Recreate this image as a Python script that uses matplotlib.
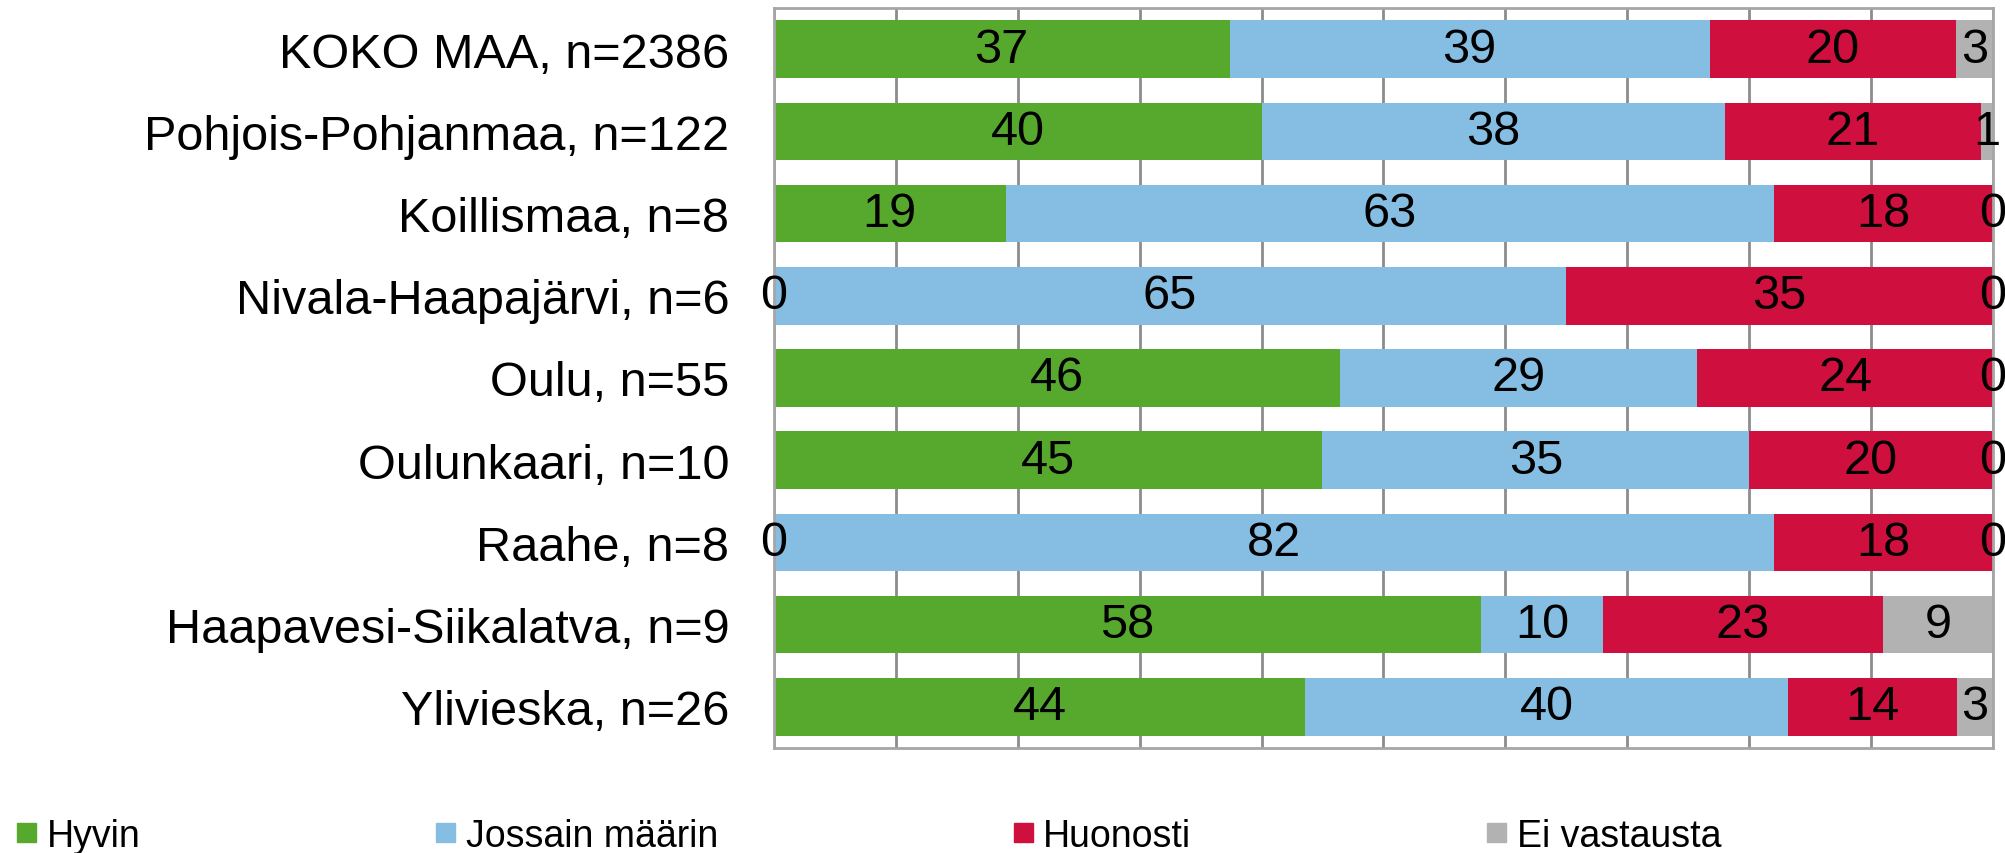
import numpy as np
import matplotlib.pyplot as plt
from matplotlib.patches import Patch

plt.rcParams['font.family'] = ['Liberation Sans', 'DejaVu Sans']

# data
regions = ["KOKO MAA, n=2386", "Pohjois-Pohjanmaa, n=122", "Koillismaa, n=8",
           "Nivala-Haapajärvi, n=6", "Oulu, n=55", "Oulunkaari, n=10",
           "Raahe, n=8", "Haapavesi-Siikalatva, n=9", "Ylivieska, n=26"]
series = ["Hyvin", "Jossain määrin", "Huonosti", "Ei vastausta"]
hyvin = [37, 40, 19, 0, 46, 45, 0, 58, 44]
jossain = [39, 38, 63, 65, 29, 35, 82, 10, 40]
huonosti = [20, 21, 18, 35, 24, 20, 18, 23, 14]
ei_vastausta = [3, 1, 0, 0, 0, 0, 0, 9, 3]
colors = ["#57A92E", "#86BDE3", "#CF0F3E", "#B2B2B2"]

vals = np.array([hyvin, jossain, huonosti, ei_vastausta], dtype=float)
# stacked to 100 %
shares = vals / vals.sum(axis=0) * 100

fig = plt.figure(figsize=(20.06, 8.54), dpi=100)
ax = fig.add_axes([0.3858, 0.1230, 0.6077, 0.8665])

y = np.arange(len(regions))
left = np.zeros(len(regions))
for i, name in enumerate(series):
    ax.barh(y, shares[i], left=left, height=0.7, color=colors[i], label=name, zorder=2)
    for j in range(len(regions)):
        ax.text(left[j] + shares[i][j] / 2, y[j], f"{int(vals[i][j])}",
                ha='center', va='center', fontsize=35, zorder=3)
    left += shares[i]

ax.set_xlim(0, 100)
ax.set_ylim(len(regions) - 0.5, -0.5)
ax.set_xticks(np.arange(0, 101, 10))
ax.set_xticklabels([])
ax.tick_params(axis='x', length=0)
ax.tick_params(axis='y', length=0, pad=32, labelsize=35)
ax.set_yticks(y)
ax.set_yticklabels(regions)
ax.grid(axis='x', color='#8C8C8C', linewidth=2, zorder=0)
ax.set_axisbelow(True)
for s in ax.spines.values():
    s.set_color('#A6A6A6')
    s.set_linewidth(2)

# legend along the bottom edge
handles = [Patch(color=c) for c in colors]
fig.legend(handles, series, loc='center left', bbox_to_anchor=(0.0085, 0.02),
           ncol=4, frameon=False, fontsize=27,
           handlelength=0.507, handleheight=0.403, handletextpad=0.28,
           columnspacing=7.89, borderpad=0, borderaxespad=0)

fig.savefig("out.png", dpi=100)
